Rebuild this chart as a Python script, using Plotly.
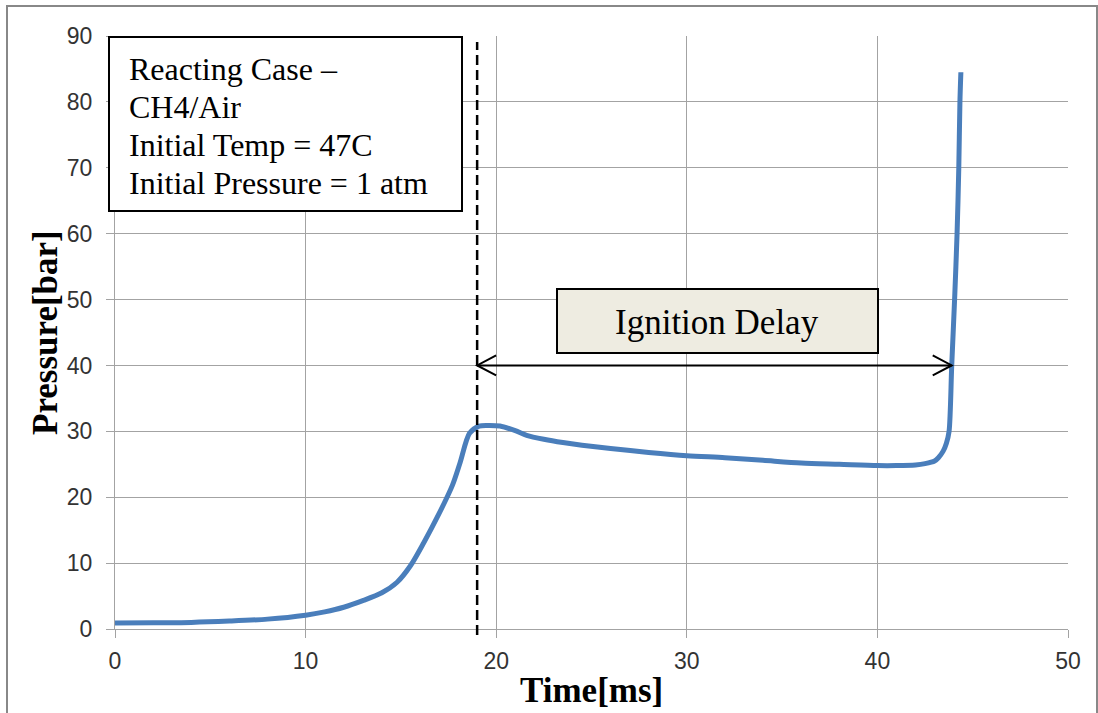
import plotly.graph_objects as go

# ---------------- data ----------------
time_ms = [0, 2, 4, 6, 8, 10, 11, 12, 13, 14, 14.8, 15.5, 16.2, 17.0, 17.7, 18.1,
           18.6, 19.1, 19.6, 20.2, 21.0, 21.6, 22.5, 23.5, 24.5, 26, 28, 30, 32, 34,
           36, 38, 40, 41, 42, 42.5, 43.0, 43.2, 43.45, 43.62, 43.76, 43.9, 44.05,
           44.18, 44.27, 44.33, 44.38]
pressure_bar = [0.9, 0.95, 1.0, 1.2, 1.5, 2.1, 2.6, 3.3, 4.3, 5.5, 7.1, 9.6, 13.1,
                17.5, 21.8, 25.2, 29.7, 30.8, 30.9, 30.8, 30.1, 29.4, 28.8, 28.3, 27.9,
                27.4, 26.8, 26.3, 26.0, 25.6, 25.2, 25.0, 24.8, 24.8, 24.9, 25.1, 25.5,
                26.0, 27.0, 28.2, 30.0, 40.0, 50.0, 60.0, 70.0, 80.0, 84.5]

x_ticks = [0, 10, 20, 30, 40, 50]
y_ticks = [0, 10, 20, 30, 40, 50, 60, 70, 80, 90]

ignition_start = 19.0
ignition_end = 43.9
arrow_level = 40

info_lines = ["Reacting Case –", "CH4/Air", "Initial Temp = 47C", "Initial Pressure = 1 atm"]
delay_label = "Ignition Delay"
x_title = "Time[ms]"
y_title = "Pressure[bar]"

# ---------------- layout geometry ----------------
W, H = 1098, 713
ML, MR, MT, MB = 115, 30, 36, 84
PW, PH = W - ML - MR, H - MT - MB
X0, X1 = 0, 50
Y0, Y1 = 0, 90


def pxx(px):
    return (px - ML) / PW


def pxy(py):
    return (H - MB - py) / PH


def dx_of_px(n):
    return n * (X1 - X0) / PW


def dy_of_px(n):
    return n * (Y1 - Y0) / PH


GRID = "#a3a3a3"
SERIF = "Liberation Serif, Times New Roman, serif"
SANS = "Liberation Sans, Arial, sans-serif"

fig = go.Figure()
fig.add_trace(go.Scatter(
    x=time_ms, y=pressure_bar, mode="lines",
    line=dict(color="#4a7ebb", width=5, shape="spline", smoothing=0.8),
    hoverinfo="skip", showlegend=False,
))

shapes = []
# outer chart border
shapes.append(dict(type="rect", xref="paper", yref="paper",
                   x0=pxx(7), x1=pxx(1097), y0=pxy(720), y1=pxy(6),
                   line=dict(color="#888888", width=2), fillcolor="rgba(0,0,0,0)", layer="below"))
# info box
shapes.append(dict(type="rect", xref="paper", yref="paper",
                   x0=pxx(109), x1=pxx(462), y0=pxy(211), y1=pxy(37),
                   line=dict(color="black", width=2), fillcolor="white", layer="above"))
# dashed vertical line at ignition start
shapes.append(dict(type="line", xref="paper", yref="paper",
                   x0=(ignition_start - X0) / (X1 - X0), x1=(ignition_start - X0) / (X1 - X0),
                   y0=pxy(635), y1=pxy(42),
                   line=dict(color="black", width=2.5, dash="10px,5px"), layer="above"))
# ignition delay box
shapes.append(dict(type="rect", xref="paper", yref="paper",
                   x0=pxx(557), x1=pxx(878), y0=pxy(353), y1=pxy(289),
                   line=dict(color="black", width=2), fillcolor="#eeece1", layer="above"))
# double arrow
shapes.append(dict(type="line", xref="x", yref="y",
                   x0=ignition_start, x1=ignition_end, y0=arrow_level, y1=arrow_level,
                   line=dict(color="black", width=2), layer="above"))
ax_len, ay_len = dx_of_px(19), dy_of_px(10)
for tip, sgn in ((ignition_start, 1), (ignition_end, -1)):
    path = (f"M {tip + sgn * ax_len},{arrow_level + ay_len} L {tip},{arrow_level} "
            f"L {tip + sgn * ax_len},{arrow_level - ay_len}")
    shapes.append(dict(type="path", xref="x", yref="y", path=path,
                       line=dict(color="black", width=2), layer="above"))

annotations = []
for i, txt in enumerate(info_lines):
    annotations.append(dict(xref="paper", yref="paper", x=pxx(127), y=pxy(69 + 38 * i),
                            text=txt, showarrow=False, xanchor="left", yanchor="middle",
                            font=dict(family=SERIF, size=32, color="black")))
annotations.append(dict(xref="paper", yref="paper", x=pxx(717), y=pxy(322), text=delay_label,
                        showarrow=False, xanchor="center", yanchor="middle",
                        font=dict(family=SERIF, size=35, color="black")))
annotations.append(dict(xref="paper", yref="paper", x=0.5, y=pxy(690), text=f"<b>{x_title}</b>",
                        showarrow=False, xanchor="center", yanchor="middle",
                        font=dict(family=SERIF, size=35, color="black")))
annotations.append(dict(xref="paper", yref="paper", x=pxx(45), y=pxy(333), text=f"<b>{y_title}</b>",
                        showarrow=False, xanchor="center", yanchor="middle", textangle=-90,
                        font=dict(family=SERIF, size=35, color="black")))

fig.update_layout(
    width=W, height=H,
    margin=dict(l=ML, r=MR, t=MT, b=MB, pad=0),
    paper_bgcolor="white", plot_bgcolor="white",
    shapes=shapes, annotations=annotations,
    xaxis=dict(range=[X0, X1], tickvals=x_ticks, ticktext=[str(v) for v in x_ticks],
               showgrid=True, gridcolor=GRID, gridwidth=1.3,
               showline=True, linecolor=GRID, linewidth=1.3,
               ticks="outside", ticklen=8, tickcolor=GRID, tickwidth=1.3,
               ticklabelstandoff=3,
               tickfont=dict(family=SANS, size=23, color="#333333"),
               zeroline=False, fixedrange=True),
    yaxis=dict(range=[Y0, Y1], tickvals=y_ticks, ticktext=[str(v) for v in y_ticks],
               showgrid=True, gridcolor=GRID, gridwidth=1.3,
               showline=True, linecolor=GRID, linewidth=1.3,
               ticks="outside", ticklen=8, tickcolor=GRID, tickwidth=1.3,
               ticklabelstandoff=9,
               tickfont=dict(family=SANS, size=23, color="#333333"),
               zeroline=False, fixedrange=True),
)

fig.write_html("out.html", config={"displayModeBar": False})
